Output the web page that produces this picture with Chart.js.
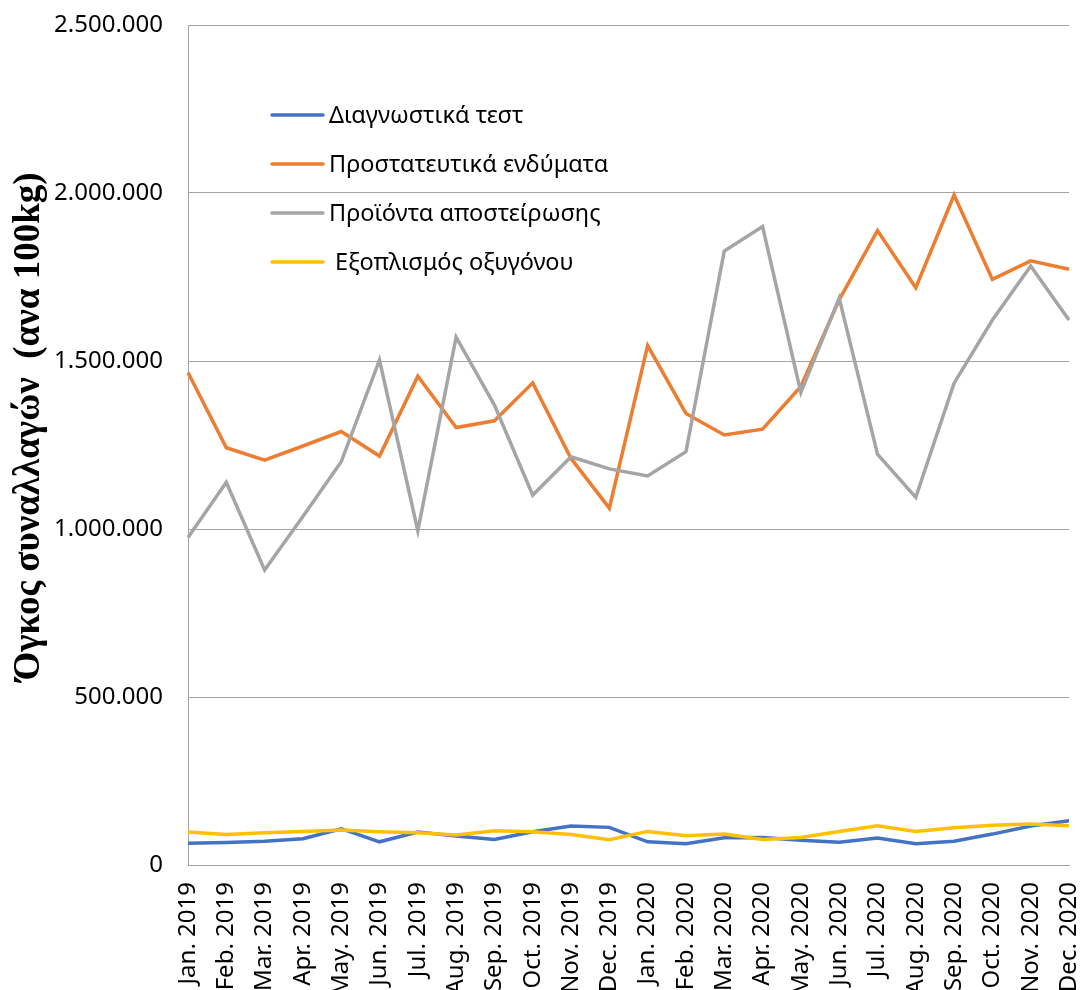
<!DOCTYPE html>
<html lang="el">
<head>
  <meta charset="UTF-8" />
  <title>Όγκος συναλλαγών</title>
  <script src="https://cdn.jsdelivr.net/npm/chart.js"></script>
  <style>
    html, body {
      margin: 0;
      padding: 0;
      background: #ffffff;
      overflow: hidden;
    }
    canvas {
      display: block;
    }
  </style>
</head>
<body>
  <canvas id="volumeChart" width="1081" height="1005"></canvas>

  <script>
    // --- data (units: 100kg) ---
    const months = [
      'Jan. 2019', 'Feb. 2019', 'Mar. 2019', 'Apr. 2019', 'May. 2019', 'Jun. 2019',
      'Jul. 2019', 'Aug. 2019', 'Sep. 2019', 'Oct. 2019', 'Nov. 2019', 'Dec. 2019',
      'Jan. 2020', 'Feb. 2020', 'Mar. 2020', 'Apr. 2020', 'May. 2020', 'Jun. 2020',
      'Jul. 2020', 'Aug. 2020', 'Sep. 2020', 'Oct. 2020', 'Nov. 2020', 'Dec. 2020'
    ];

    const diagnostikaTest = [
      65000, 67000, 71000, 78000, 108000, 69000, 98000, 86000, 76000, 99000, 116000, 112000,
      69000, 63000, 81000, 82000, 74000, 68000, 80000, 63000, 71000, 92000, 116000, 132000
    ];

    const prostateftikaEndymata = [
      1466000, 1242000, 1205000, 1247000, 1290000, 1217000, 1455000, 1302000, 1322000, 1435000, 1210000, 1062000,
      1546000, 1344000, 1280000, 1297000, 1424000, 1682000, 1888000, 1718000, 1994000, 1743000, 1798000, 1773000
    ];

    const proiontaApostirosis = [
      975000, 1139000, 878000, 1037000, 1200000, 1503000, 995000, 1571000, 1369000, 1101000, 1215000, 1179000,
      1158000, 1230000, 1827000, 1900000, 1406000, 1687000, 1223000, 1094000, 1434000, 1622000, 1783000, 1622000
    ];

    const exoplismosOxygonou = [
      98000, 91000, 96000, 100000, 104000, 99000, 96000, 89000, 102000, 99000, 91000, 75000,
      100000, 87000, 92000, 76000, 82000, 100000, 117000, 100000, 111000, 118000, 122000, 117000
    ];

    const seriesNames = [
      'Διαγνωστικά τεστ',
      'Προστατευτικά ενδύματα',
      'Προϊόντα αποστείρωσης',
      ' Εξοπλισμός οξυγόνου'
    ];
    const yTicks = [0, 500000, 1000000, 1500000, 2000000, 2500000];

    const GRID = '#a3a3a3';
    const FONT = "'Noto Sans', sans-serif";

    function dotted(v) {
      return v.toString().replace(/\B(?=(\d{3})+(?!\d))/g, '.');
    }

    // legend drawn inside the plot, like the original
    const insideLegend = {
      id: 'insideLegend',
      afterDraw(chart) {
        const c = chart.ctx;
        const x0 = 272, x1 = 323, tx = 329;
        const rows = [115, 164, 213, 262];
        c.save();
        c.font = '23.5px ' + FONT;
        c.textBaseline = 'middle';
        chart.data.datasets.forEach((ds, i) => {
          c.strokeStyle = ds.borderColor;
          c.lineWidth = 3.5;
          c.lineCap = 'round';
          c.beginPath();
          c.moveTo(x0, rows[i]);
          c.lineTo(x1, rows[i]);
          c.stroke();
          c.fillStyle = '#000';
          c.fillText(ds.label, tx, rows[i] + 1);
        });
        c.restore();
      }
    };

    const ctx = document.getElementById('volumeChart').getContext('2d');
    const chart = new Chart(ctx, {
      type: 'line',
      data: {
        labels: months,
        datasets: [
          { label: seriesNames[0], data: diagnostikaTest, borderColor: '#4472c4', order: 4 },
          { label: seriesNames[1], data: prostateftikaEndymata, borderColor: '#ed7d31', order: 3 },
          { label: seriesNames[2], data: proiontaApostirosis, borderColor: '#a5a5a5', order: 2 },
          { label: seriesNames[3], data: exoplismosOxygonou, borderColor: '#ffc000', order: 1 }
        ]
      },
      options: {
        responsive: false,
        animation: false,
        layout: {
          padding: { left: 3, top: 25, right: 12, bottom: 0 }
        },
        elements: {
          line: { borderWidth: 3.5, tension: 0, fill: false },
          point: { radius: 0 }
        },
        plugins: {
          legend: { display: false },
          tooltip: { enabled: false }
        },
        scales: {
          x: {
            offset: false,
            grid: { display: false, drawTicks: false },
            border: { display: true, color: GRID, width: 1 },
            ticks: {
              color: '#000',
              font: { family: FONT, size: 24 },
              minRotation: 90,
              maxRotation: 90,
              autoSkip: false,
              padding: 17
            },
            afterFit(scale) {
              scale.height = 140;
              scale.paddingLeft = 0;
              scale.paddingRight = 0;
            }
          },
          y: {
            min: 0,
            max: 2500000,
            afterBuildTicks(scale) {
              scale.ticks = yTicks.map(v => ({ value: v }));
            },
            grid: { color: GRID, lineWidth: 1, drawTicks: false },
            border: { display: true, color: GRID, width: 1 },
            ticks: {
              color: '#000',
              font: { family: FONT, size: 24 },
              padding: 25,
              callback: v => dotted(v)
            },
            title: {
              display: true,
              text: '    Όγκος συναλλαγών  (ανα 100kg)',
              color: '#000',
              font: { family: "'Liberation Serif', serif", size: 37, weight: 'bold' },
              padding: { top: 4, bottom: 4 }
            },
            afterFit(scale) {
              scale.width = 185;
              scale.paddingTop = 0;
              scale.paddingBottom = 0;
            }
          }
        }
      },
      plugins: [insideLegend]
    });
  </script>
</body>
</html>
